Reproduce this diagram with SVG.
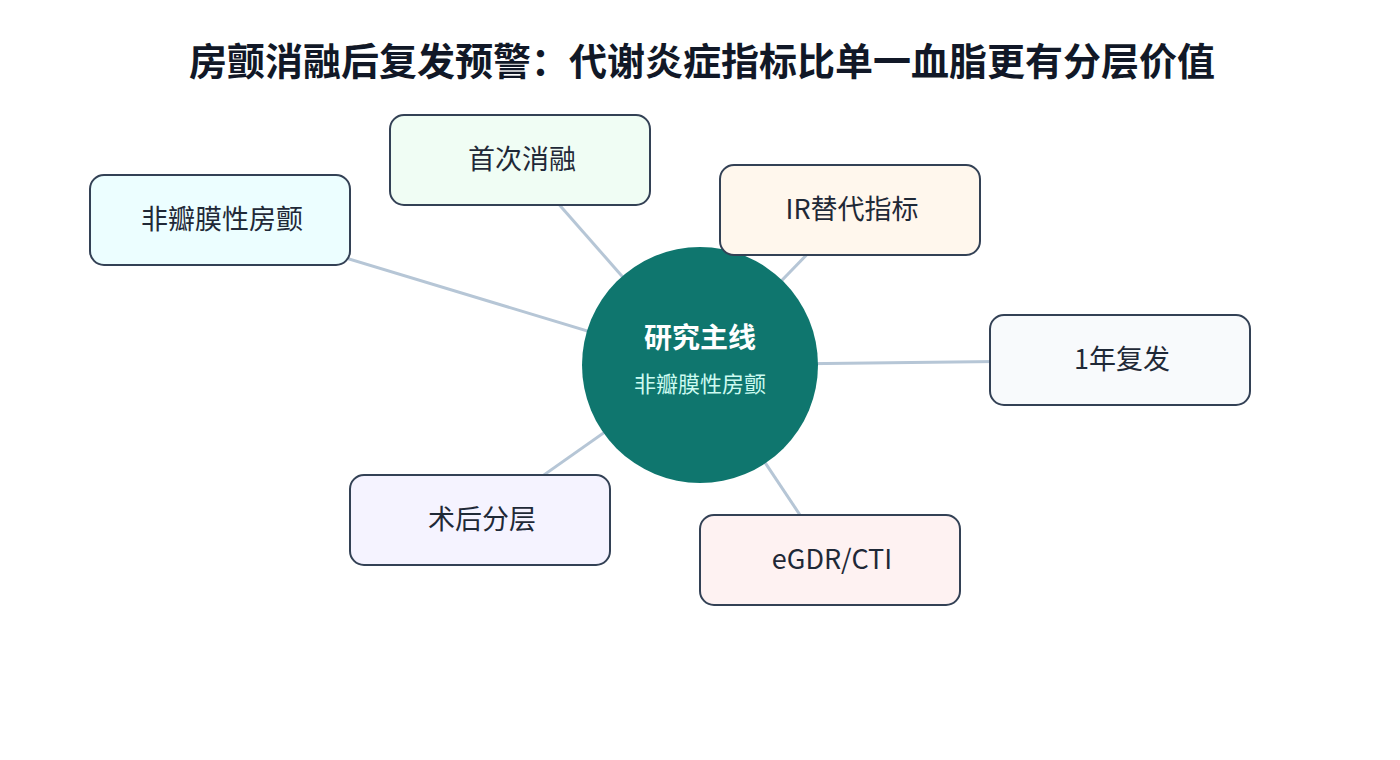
<svg xmlns="http://www.w3.org/2000/svg" width="1400" height="760" viewBox="0 0 1400 760">
<style>
.t{font-family:"Noto Sans CJK SC","Liberation Sans",sans-serif;text-anchor:middle;dominant-baseline:central}
.n rect{stroke:#334155;stroke-width:2}
.n text{font-size:27px;fill:#1f2937}
.c line{stroke:#b6c6d6;stroke-width:3}
</style>
<rect width="1400" height="760" fill="#ffffff"/>
<text class="t" x="702" y="58" font-size="38" font-weight="bold" fill="#111827">房颤消融后复发预警：代谢炎症指标比单一血脂更有分层价值</text>
<g id="connectors" class="c">
<line x1="700" y1="365" x2="220" y2="220"/>
<line x1="700" y1="365" x2="520" y2="160"/>
<line x1="700" y1="365" x2="850" y2="210"/>
<line x1="700" y1="365" x2="1120" y2="360"/>
<line x1="700" y1="365" x2="480" y2="520"/>
<line x1="700" y1="365" x2="830" y2="560"/>
</g>
<g id="center">
<circle cx="700" cy="365" r="118" fill="#0f766e"/>
<text class="t" x="700" y="336" font-size="28" font-weight="bold" fill="#ffffff">研究主线</text>
<text class="t" x="700" y="382" font-size="22" fill="#ccfbf1">非瓣膜性房颤</text>
</g>
<g id="n1" class="n"><rect x="90" y="175" width="260" height="90" rx="14" fill="#ecfeff"/><text class="t" x="222" y="217">非瓣膜性房颤</text></g>
<g id="n2" class="n"><rect x="390" y="115" width="260" height="90" rx="14" fill="#f0fdf4"/><text class="t" x="522" y="157">首次消融</text></g>
<g id="n3" class="n"><rect x="720" y="165" width="260" height="90" rx="14" fill="#fff7ed"/><text class="t" x="852" y="207">IR替代指标</text></g>
<g id="n4" class="n"><rect x="990" y="315" width="260" height="90" rx="14" fill="#f8fafc"/><text class="t" x="1122" y="357">1年复发</text></g>
<g id="n5" class="n"><rect x="350" y="475" width="260" height="90" rx="14" fill="#f5f3ff"/><text class="t" x="482" y="517">术后分层</text></g>
<g id="n6" class="n"><rect x="700" y="515" width="260" height="90" rx="14" fill="#fef2f2"/><text class="t" x="832" y="557">eGDR/CTI</text></g>
</svg>
